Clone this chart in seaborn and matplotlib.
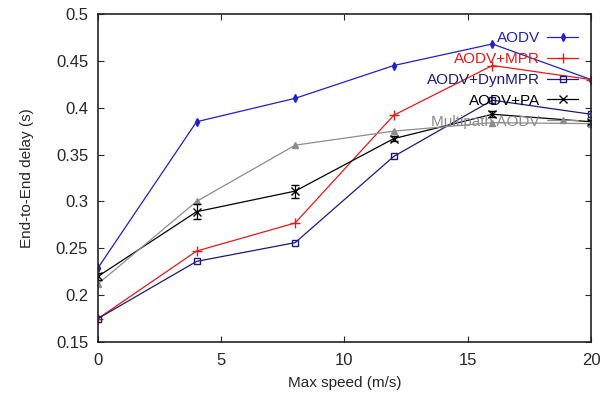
import matplotlib
matplotlib.use("Agg")
import matplotlib.pyplot as plt
import seaborn as sns
import pandas as pd

speeds = [0, 4, 8, 12, 16, 20]
aodv = [0.229, 0.385, 0.410, 0.445, 0.468, 0.430]
aodv_mpr = [0.175, 0.247, 0.277, 0.392, 0.445, 0.430]
aodv_dynmpr = [0.175, 0.236, 0.256, 0.348, 0.408, 0.393]
aodv_pa = [0.220, 0.289, 0.311, 0.367, 0.393, 0.385]
aodv_pa_err = [0.004, 0.008, 0.007, 0.003, 0.003, 0.002]
multipath = [0.212, 0.300, 0.360, 0.375, 0.384, 0.383]

labels = ["AODV", "AODV+MPR", "AODV+DynMPR", "AODV+PA", "Multipath AODV"]
series = [aodv, aodv_mpr, aodv_dynmpr, aodv_pa, multipath]
colors = ["#1f1fd0", "#e81818", "#1a1a7a", "#000000", "#8c8c8c"]
markers = ["d", "+", "s", "x", "^"]
msizes = [4, 7, 5, 6, 4]
mfcs = [None, None, "none", None, None]

sns.set_style("ticks")
plt.rcParams['font.family'] = ['Liberation Sans', 'DejaVu Sans']

fig = plt.figure(figsize=(6.07, 3.99), dpi=100)
ax = fig.add_axes([0.1614, 0.1429, 0.8122, 0.8221])

for lab, vals, c, m, ms, mfc in zip(labels, series, colors, markers, msizes, mfcs):
    df = pd.DataFrame({"speed": speeds, "delay": vals})
    kw = dict(markerfacecolor=mfc) if mfc else {}
    sns.lineplot(data=df, x="speed", y="delay", ax=ax, color=c, marker=m,
                 markersize=ms, markeredgecolor=c, markeredgewidth=1.0,
                 linewidth=0.9, label=lab, **kw)

ax.errorbar(speeds, aodv_pa, yerr=aodv_pa_err, fmt="none", ecolor="black",
            elinewidth=0.9, capsize=3)

ax.set_xlim(0, 20)
ax.set_ylim(0.15, 0.5)
ax.set_xticks([0, 5, 10, 15, 20])
ax.set_yticks([0.15, 0.2, 0.25, 0.3, 0.35, 0.4, 0.45, 0.5])
ax.set_yticklabels(["0.15", "0.2", "0.25", "0.3", "0.35", "0.4", "0.45", "0.5"])
ax.tick_params(direction="in", top=True, right=True, labelsize=12, length=4)
ax.tick_params(axis="x", pad=8)
ax.tick_params(axis="y", pad=7)
for s in ax.spines.values():
    s.set_linewidth(1.2)
    s.set_color("#222222")
ax.set_xlabel("Max speed (m/s)", fontsize=11, labelpad=6)
ax.set_ylabel("End-to-End delay (s)", fontsize=11, labelpad=16)

leg = ax.legend(loc="upper right", frameon=False, markerfirst=False,
                fontsize=11, handlelength=2.0, handletextpad=0.5,
                labelspacing=0.45, borderaxespad=0.3,
                bbox_to_anchor=(0.995, 0.98))
for t, c in zip(leg.get_texts(), colors):
    t.set_color(c)

fig.savefig("out.png", dpi=100)
